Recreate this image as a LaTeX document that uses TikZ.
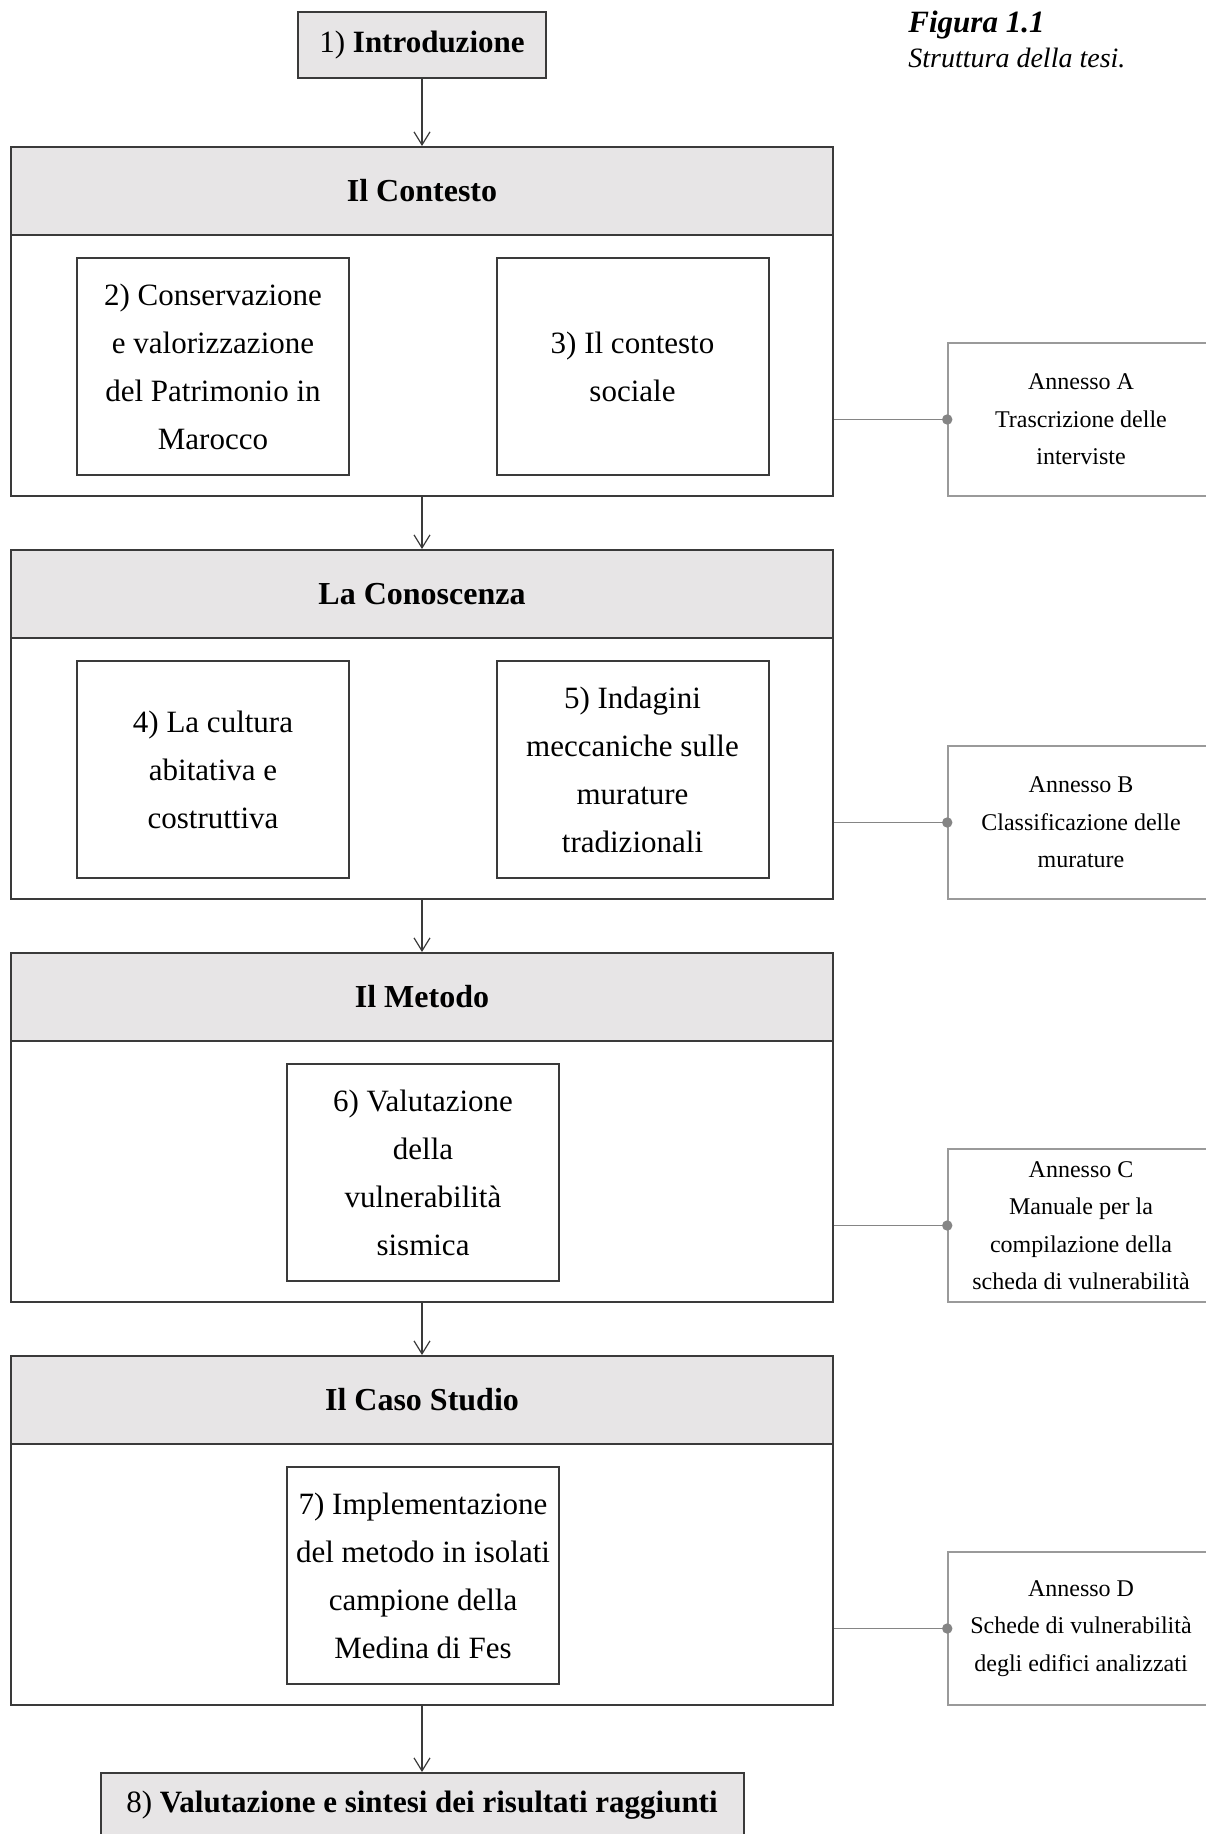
\documentclass[tikz,border=0pt]{standalone}
\usepackage{fontspec}
\setmainfont{Liberation Serif}
\usetikzlibrary{arrows.meta}
\definecolor{hdr}{HTML}{E7E5E6}
\definecolor{frame}{HTML}{3A3A3A}
\definecolor{annexgray}{HTML}{9A9A9A}
\definecolor{dotgray}{HTML}{858585}
\begin{document}
\begin{tikzpicture}[x=0.5pt,y=-0.5pt,
  section/.style={draw=frame,line width=1pt,minimum width=411pt,minimum height=174.5pt,inner sep=0pt},
  header/.style={draw=frame,fill=hdr,line width=1pt,minimum width=411pt,minimum height=44pt,inner sep=0pt,font=\fontsize{16}{20}\selectfont\bfseries},
  inbox/.style={draw=frame,line width=1pt,minimum width=136pt,minimum height=108.5pt,inner sep=0pt,align=center,font=\fontsize{15.5}{24}\selectfont},
  annex/.style={draw=annexgray,line width=0.75pt,minimum width=133pt,minimum height=76.5pt,inner sep=0pt,align=center,font=\fontsize{12}{18.7}\selectfont},
  topbox/.style={draw=frame,fill=hdr,line width=1pt,inner sep=0pt,font=\fontsize{15.5}{20}\selectfont},
  flow/.style={draw=frame,line width=0.6pt,-{Straight Barb[length=6.5pt,width=8pt,line width=0.6pt]}},
  link/.style={draw=dotgray,line width=0.6pt},
  dot/.style={fill=dotgray},
  caption/.style={anchor=base west,inner sep=0pt},
]
\useasboundingbox (0,0) rectangle (1205,1834);

% caption
\node[caption,font=\fontsize{15.5}{18}\selectfont\bfseries\itshape] (figlabel) at (908,33) {Figura 1.1};
\node[caption,font=\fontsize{14}{18}\selectfont\itshape] (figtitle) at (908,68) {Struttura della tesi.};

% intro
\node[topbox,minimum width=124pt,minimum height=33pt] (intro) at (422,45) {1) \textbf{Introduzione}};

% section 1
\node[section] (s1) at (422,321.5) {};
\node[header] (h1) at (422,191) {Il Contesto};
\node[inbox] (b2) at (213,366.5) {2) Conservazione\\e valorizzazione\\del Patrimonio in\\Marocco};
\node[inbox] (b3) at (632.5,366.5) {3) Il contesto\\sociale};
\node[annex] (a1) at (1081,419.5) {Annesso A\\Trascrizione delle\\interviste};

% section 2
\node[section] (s2) at (422,724.5) {};
\node[header] (h2) at (422,594) {La Conoscenza};
\node[inbox] (b4) at (213,769.5) {4) La cultura\\abitativa e\\costruttiva};
\node[inbox] (b5) at (632.5,769.5) {5) Indagini\\meccaniche sulle\\murature\\tradizionali};
\node[annex] (a2) at (1081,822.5) {Annesso B\\Classificazione delle\\murature};

% section 3
\node[section] (s3) at (422,1127.5) {};
\node[header] (h3) at (422,997) {Il Metodo};
\node[inbox] (b6) at (423,1172.5) {6) Valutazione\\della\\vulnerabilità\\sismica};
\node[annex] (a3) at (1081,1225.5) {Annesso C\\Manuale per la\\compilazione della\\scheda di vulnerabilità};

% section 4
\node[section] (s4) at (422,1530.5) {};
\node[header] (h4) at (422,1400) {Il Caso Studio};
\node[inbox] (b7) at (423,1575.5) {7) Implementazione\\del metodo in isolati\\campione della\\Medina di Fes};
\node[annex] (a4) at (1081,1628.5) {Annesso D\\Schede di vulnerabilità\\degli edifici analizzati};

% final
\node[topbox,minimum width=321.5pt,minimum height=32.5pt] (b8) at (422,1805.5) {8) \textbf{Valutazione e sintesi dei risultati raggiunti}};

% flow arrows
\draw[flow] (intro.south) -- (s1.north);
\draw[flow] (s1.south) -- (s2.north);
\draw[flow] (s2.south) -- (s3.north);
\draw[flow] (s3.south) -- (s4.north);
\draw[flow] (s4.south) -- (b8.north);

% annex links
\foreach \s/\a in {s1/a1,s2/a2,s3/a3,s4/a4}{
  \draw[link] (\s.east |- \a.west) -- (\a.west);
  \fill[dot] (\a.west) circle (2.6pt);
}
\end{tikzpicture}
\end{document}
